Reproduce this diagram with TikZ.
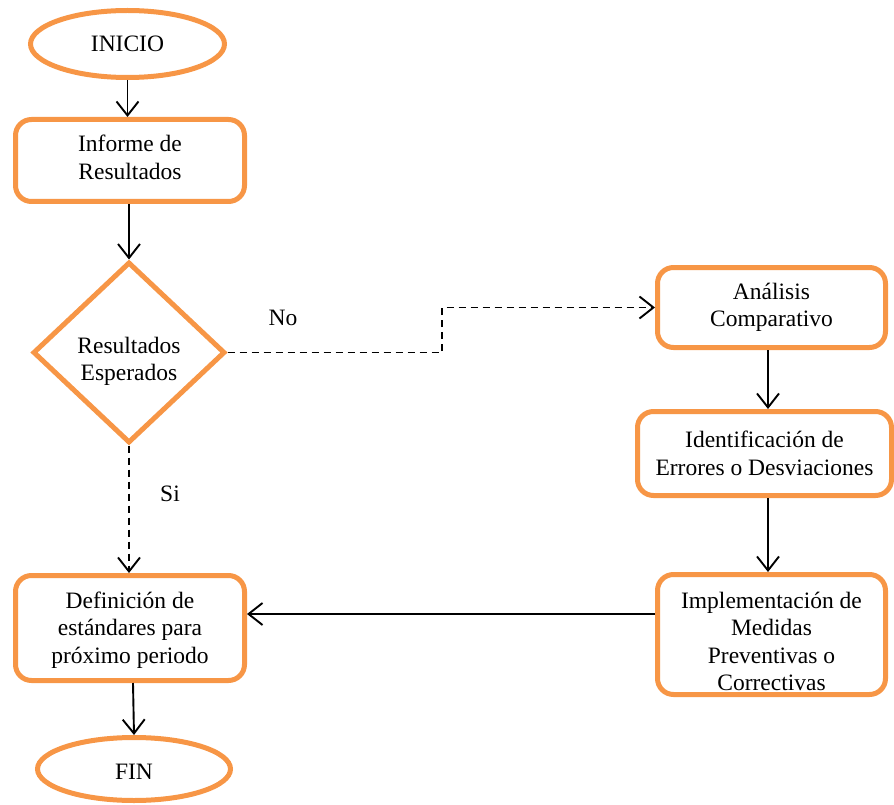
\documentclass[tikz,border=0pt]{standalone}
\usepackage{fontspec}
\setmainfont{Liberation Serif}
\usetikzlibrary{shapes.geometric,arrows.meta}
\definecolor{boxorange}{RGB}{247,150,70}
\begin{document}
\begin{tikzpicture}[x=1pt,y=-1pt,
  every node/.style={font=\fontsize{23.5}{27.5}\selectfont, align=center, inner sep=0pt},
  procbox/.style={draw=boxorange, line width=5pt, rounded corners=16pt, fill=white},
  terminal/.style={draw=boxorange, line width=5pt, ellipse},
  decision/.style={draw=boxorange, line width=5pt, diamond},
  flow/.style={line width=1.9pt, -{Straight Barb[length=14pt,width=22pt]}},
  altflow/.style={flow, dash pattern=on 7pt off 5pt}
]
\useasboundingbox (0,0) rectangle (894,805);

% flowchart nodes
\node[terminal, minimum width=194pt, minimum height=67pt] (inicio) at (127.5,44) {INICIO};
\node[procbox, minimum width=229pt, minimum height=82pt,
      label={[yshift=3pt]center:Informe de\\Resultados}] (informe) at (130,160.5) {};
\node[decision, minimum width=192pt, minimum height=181pt,
      label={[yshift=-9pt]center:Resultados\\Esperados}] (check) at (129,352.5) {};
\node[procbox, minimum width=228pt, minimum height=80pt] (analisis) at (771.5,307.5) {Análisis\\Comparativo};
\node[procbox, minimum width=254pt, minimum height=84pt] (errores) at (764.5,453.5) {Identificación de\\Errores o Desviaciones};
\node[procbox, minimum width=228pt, minimum height=120pt,
      label={[yshift=-7pt]center:Implementación de\\Medidas\\Preventivas o\\Correctivas}] (medidas) at (771.5,634.5) {};
\node[procbox, minimum width=229pt, minimum height=105pt,
      label={[yshift=-2pt]center:Definición de\\estándares para\\próximo periodo}] (estandares) at (130,628) {};
\node[terminal, minimum width=193pt, minimum height=63pt,
      label={[yshift=-3pt]center:FIN}] (fin) at (134,769) {};

% branch labels
\node (no) at (283,318) {No};
\node (si) at (170,494) {Si};

% connectors
\coordinate (bend) at (442,0);
\draw[flow] (inicio.south) -- (inicio.south |- informe.north);
\draw[flow] (check.north |- informe.south) -- (check.north);
\draw[altflow] (check.east) -- (check.east -| bend) |- (analisis.west);
\draw[altflow] (check.south) -- (check.south |- estandares.north);
\draw[flow] ([xshift=-3.5pt]analisis.south) -- ([xshift=-3.5pt]analisis.south |- errores.north);
\draw[flow] ([xshift=3.5pt]errores.south) -- ([xshift=3.5pt]errores.south |- medidas.north);
\draw[flow] ([yshift=20.5pt]medidas.west) -- ([yshift=20.5pt]medidas.west -| estandares.east);
\draw[flow] ([xshift=3pt]estandares.south) -- (fin.north);
\end{tikzpicture}
\end{document}
